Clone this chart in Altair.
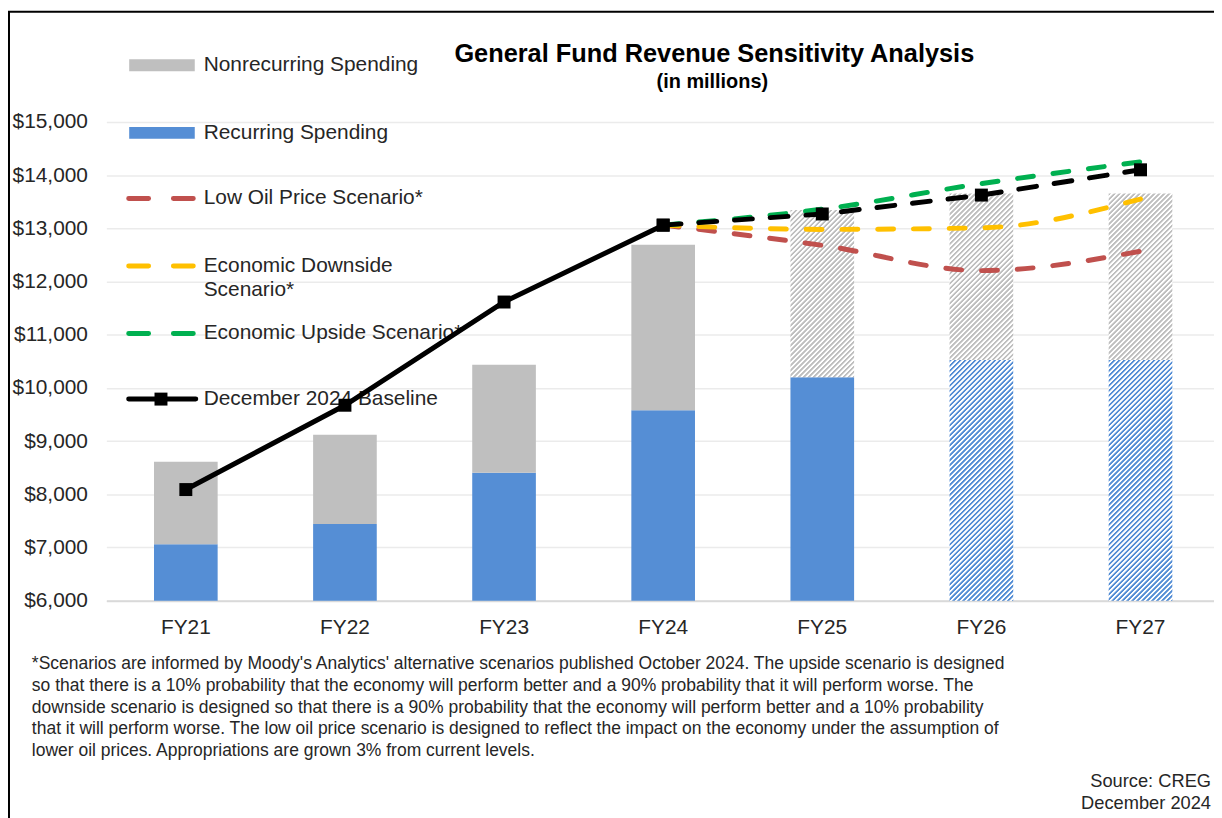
import altair as alt
import pandas as pd

# ---------------- data ----------------
years = ["FY21", "FY22", "FY23", "FY24", "FY25", "FY26", "FY27"]
recurring = [7060, 7445, 8405, 9580, 10200, 10525, 10525]
total_spending = [8615, 9120, 10435, 12690, 13345, 13655, 13655]
nonrec_hatched = [False, False, False, False, True, True, True]
rec_hatched = [False, False, False, False, False, True, True]

actual_years = ["FY21", "FY22", "FY23", "FY24"]
baseline_actual = [8090, 9675, 11615, 13060]
proj_years = ["FY24", "FY25", "FY26", "FY27"]
baseline_proj = [13060, 13270, 13625, 14100]
low_oil = [13060, 12680, 12205, 12570]
downside = [13060, 12980, 13010, 13550]
upside = [13060, 13360, 13840, 14250]

y_ticks = [6000, 7000, 8000, 9000, 10000, 11000, 12000, 13000, 14000, 15000]

legend_labels = ["Nonrecurring Spending", "Recurring Spending", "Low Oil Price Scenario*",
                 ["Economic Downside", "Scenario*"], "Economic Upside Scenario*",
                 "December 2024 Baseline"]

title_text = "General Fund Revenue Sensitivity Analysis"
subtitle_text = "(in millions)"
footnote_lines = [
    "*Scenarios are informed by Moody's Analytics' alternative scenarios published October 2024. The upside scenario is designed",
    "so that there is a 10% probability that the economy will perform better and a 90% probability that it will perform worse. The",
    "downside scenario is designed so that there is a 90% probability that the economy will perform better and a 10% probability",
    "that it will perform worse. The low oil price scenario is designed to reflect the impact on the economy under the assumption of",
    "lower oil prices. Appropriations are grown 3% from current levels.",
]
source_lines = ["Source: CREG", "December 2024"]

# ---------------- styles ----------------
GRAY = "#bfbfbf"
BLUE = "#558ed5"
RED = "#c0504d"
YELLOW = "#ffc000"
GREEN = "#00b050"
FONT = "Liberation Sans"
W, H = 1115, 482
YMIN, YMAX = 6000, 15000
PX = H / (YMAX - YMIN)
BAR_W = 64

xscale = alt.Scale(domain=years, paddingInner=0.6, paddingOuter=0.2807, align=0.5335)
yscale = alt.Scale(domain=[YMIN, YMAX], nice=False, zero=False)
X = alt.X("year:N", scale=xscale, sort=years,
          axis=alt.Axis(title=None, labelAngle=0, labelFontSize=21, labelColor="#262626",
                        labelFont=FONT, labelPadding=16, ticks=False, tickSize=0,
                        domainColor="#d9d9d9", domainWidth=2, grid=False))
Yax = alt.Axis(title=None, values=y_ticks, format="$,.0f", labelFontSize=21,
               labelColor="#262626", labelFont=FONT, labelPadding=19, ticks=False,
               tickSize=0, domain=False, grid=True, gridColor="#ebebeb", gridWidth=1.5)


def hatch(color, w, h, period=5):
    # diagonal "/" stripes (soft-edged) with an integer pixel period along x+y
    n = int(-(-(w + h) // period)) + 1
    L = n * period
    s = L / (w * w + h * h)
    stops = []
    for i in range(n):
        a = i / n
        stops += [{"offset": a + 0.05 / n, "color": color},
                  {"offset": a + 0.40 / n, "color": color},
                  {"offset": a + 0.55 / n, "color": "#ffffff"},
                  {"offset": a + 0.90 / n, "color": "#ffffff"}]
    return {"gradient": "linear", "x1": 0, "y1": 0, "x2": s * w, "y2": s * h, "stops": stops}


bars = pd.DataFrame({"year": years, "rec": recurring, "tot": total_spending,
                     "nh": nonrec_hatched, "rh": rec_hatched})
bars["base"] = YMIN

one = pd.DataFrame({"k": [0]})

# frame
frame = alt.Chart(one).mark_rect(fill="transparent", stroke="#000000", strokeWidth=2).encode(
    x=alt.value(-98), x2=alt.value(1300), y=alt.value(-111), y2=alt.value(900))

# legend (manual)
LX1, LX2, LTX = 20, 90, 98
rows_y = [-57, 11, 77, 145, 213, 279]
leg = []
leg.append(alt.Chart(one).mark_rect(fill=GRAY).encode(
    x=alt.value(23), x2=alt.value(89), y=alt.value(rows_y[0] - 6), y2=alt.value(rows_y[0] + 6)))
leg.append(alt.Chart(one).mark_rect(fill=BLUE).encode(
    x=alt.value(23), x2=alt.value(89), y=alt.value(rows_y[1] - 6), y2=alt.value(rows_y[1] + 6)))
for c, yy in zip([RED, YELLOW, GREEN], rows_y[2:5]):
    leg.append(alt.Chart(one).mark_rule(color=c, strokeWidth=5, strokeCap="round",
                                        strokeDash=[20, 25]).encode(
        x=alt.value(LX1 + 2.5), x2=alt.value(LX2 - 2.5), y=alt.value(yy)))
leg.append(alt.Chart(one).mark_rule(color="#000000", strokeWidth=5, strokeCap="round").encode(
    x=alt.value(LX1 + 2.5), x2=alt.value(LX2), y=alt.value(rows_y[5])))
leg.append(alt.Chart(one).mark_point(shape="square", filled=True, color="#000000", size=170,
                                     opacity=1).encode(
    x=alt.value(55), y=alt.value(rows_y[5])))
for lab, yy in zip(legend_labels, rows_y):
    leg.append(alt.Chart(one).mark_text(align="left", baseline="middle", font=FONT, fontSize=21,
                                        color="#262626", lineHeight=24).encode(
        x=alt.value(LTX), y=alt.value(yy), text=alt.value(lab)))

# bars
solid_rec = alt.Chart(bars[~bars["rh"]]).mark_bar(fill=BLUE).encode(
    x=X, y=alt.Y("base:Q", scale=yscale, axis=Yax), y2="rec:Q")
solid_non = alt.Chart(bars[~bars["nh"]]).mark_bar(fill=GRAY).encode(
    x=X, y=alt.Y("rec:Q", scale=yscale), y2="tot:Q")
hb = bars[bars["nh"]]
h_non = (hb["tot"] - hb["rec"]).mean() * PX
hatch_non = alt.Chart(hb).mark_bar(fill=hatch(GRAY, BAR_W, h_non)).encode(
    x=X, y=alt.Y("rec:Q", scale=yscale), y2="tot:Q")
hr = bars[bars["rh"]]
h_rec = (hr["rec"] - YMIN).mean() * PX
hatch_rec = alt.Chart(hr).mark_bar(fill=hatch(BLUE, BAR_W, h_rec)).encode(
    x=X, y=alt.Y("base:Q", scale=yscale), y2="rec:Q")

# lines
act = pd.DataFrame({"year": actual_years, "v": baseline_actual})
proj = pd.DataFrame({"year": proj_years, "v": baseline_proj})
act_line = alt.Chart(act).mark_line(color="#000000", strokeWidth=5).encode(
    x=X, y=alt.Y("v:Q", scale=yscale))
act_pts = alt.Chart(act).mark_point(shape="square", filled=True, color="#000000", size=170,
                                    opacity=1).encode(x=X, y=alt.Y("v:Q", scale=yscale))
scen_layers = []
for vals, c in [(low_oil, RED), (downside, YELLOW), (upside, GREEN)]:
    d = pd.DataFrame({"year": proj_years, "v": vals})
    scen_layers.append(alt.Chart(d).mark_line(color=c, strokeWidth=5, strokeCap="round",
                                              strokeDash=[16, 20], interpolate="monotone").encode(
        x=X, y=alt.Y("v:Q", scale=yscale)))
proj_line = alt.Chart(proj).mark_line(color="#000000", strokeWidth=5, strokeCap="round",
                                      strokeDash=[18, 18]).encode(
    x=X, y=alt.Y("v:Q", scale=yscale))
proj_pts = alt.Chart(proj).mark_point(shape="square", filled=True, color="#000000", size=170,
                                      opacity=1).encode(x=X, y=alt.Y("v:Q", scale=yscale))

# texts
title = alt.Chart(one).mark_text(font=FONT, fontSize=25.5, fontWeight="bold", color="#000000",
                                 align="center", baseline="middle").encode(
    x=alt.value(612), y=alt.value(-68), text=alt.value(title_text))
subtitle = alt.Chart(one).mark_text(font=FONT, fontSize=20, fontWeight="bold", color="#000000",
                                    align="center", baseline="middle").encode(
    x=alt.value(610), y=alt.value(-40), text=alt.value(subtitle_text))
foot = alt.Chart(one).mark_text(font=FONT, fontSize=17.6, color="#262626", align="left",
                                baseline="middle", lineHeight=21.8).encode(
    x=alt.value(-75), y=alt.value(546), text=alt.value(footnote_lines))
source = alt.Chart(one).mark_text(font=FONT, fontSize=18.4, color="#262626", align="right",
                                  baseline="middle", lineHeight=23).encode(
    x=alt.value(1112), y=alt.value(663), text=alt.value(source_lines))

chart = alt.layer(
    frame, *leg, solid_rec, solid_non, hatch_non, hatch_rec,
    act_line, *scen_layers, proj_line, act_pts, proj_pts,
    title, subtitle, foot, source,
).properties(
    width=W, height=H, autosize="none",
    padding={"left": 99, "top": 112, "right": 0, "bottom": 216},
    background="#ffffff",
).configure_view(strokeWidth=0)

chart.save("out.html", embed_options={"renderer": "svg", "actions": False})
